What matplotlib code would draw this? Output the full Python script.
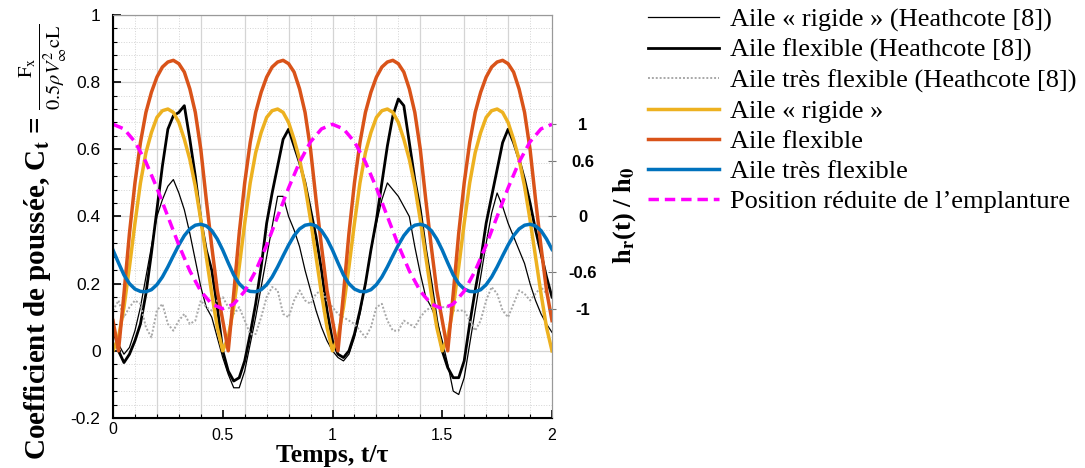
import numpy as np
import matplotlib
matplotlib.use("Agg")
import matplotlib.pyplot as plt
from matplotlib.ticker import MultipleLocator, FixedLocator

plt.rcParams['font.family'] = ['Liberation Sans', 'DejaVu Sans']
plt.rcParams['axes.unicode_minus'] = False
plt.rcParams['mathtext.fontset'] = 'stix'

# time base (t/tau), sampled every 0.025
t = np.round(np.arange(0, 2.0001, 0.025), 3)
# root position sampled every 0.05
t_h = np.round(np.arange(0, 2.0001, 0.05), 3)

# Heathcote [8] experiments
heath_rigide = [
    0.06, 0.02, -0.01, 0.01, 0.06, 0.13, 0.22, 0.31, 0.40, 0.45,
    0.49, 0.51, 0.47, 0.42, 0.35, 0.27, 0.19, 0.13, 0.10, 0.04,
    -0.02, -0.07, -0.11, -0.11, -0.06, 0.02, 0.10, 0.19, 0.28, 0.37,
    0.46, 0.46, 0.40, 0.36, 0.31, 0.24, 0.18, 0.12, 0.07, 0.03,
    0.0, -0.02, -0.03, -0.01, 0.04, 0.11, 0.20, 0.30, 0.38, 0.45,
    0.50, 0.48, 0.46, 0.43, 0.40, 0.31, 0.23, 0.16, 0.13, 0.09,
    0.03, -0.04, -0.12, -0.13, -0.08, 0.02, 0.12, 0.22, 0.32, 0.41,
    0.47, 0.43, 0.38, 0.34, 0.30, 0.26, 0.20, 0.15, 0.11, 0.08,
    0.055]
heath_flex = [
    0.08, 0.0, -0.035, -0.01, 0.03, 0.08, 0.17, 0.29, 0.42, 0.55,
    0.66, 0.70, 0.71, 0.73, 0.63, 0.52, 0.39, 0.30, 0.24, 0.13,
    0.0, -0.06, -0.09, -0.08, -0.03, 0.05, 0.14, 0.25, 0.38, 0.47,
    0.55, 0.63, 0.66, 0.61, 0.56, 0.50, 0.42, 0.34, 0.24, 0.12,
    0.03, -0.01, -0.02, 0.0, 0.05, 0.12, 0.20, 0.30, 0.39, 0.50,
    0.61, 0.70, 0.75, 0.73, 0.62, 0.51, 0.42, 0.30, 0.20, 0.09,
    0.0, -0.05, -0.08, -0.08, -0.03, 0.08, 0.18, 0.27, 0.38, 0.46,
    0.54, 0.62, 0.66, 0.62, 0.57, 0.51, 0.44, 0.36, 0.29, 0.22,
    0.16]
heath_tres_flex = [
    0.12, 0.15, 0.10, 0.13, 0.15, 0.14, 0.07, 0.04, 0.12, 0.14,
    0.08, 0.06, 0.09, 0.11, 0.08, 0.09, 0.15, 0.13, 0.12, 0.15,
    0.16, 0.13, 0.11, 0.13, 0.09, 0.05, 0.05, 0.10, 0.16, 0.19,
    0.18, 0.11, 0.10, 0.15, 0.18, 0.15, 0.14, 0.17, 0.18, 0.15,
    0.13, 0.11, 0.10, 0.09, 0.08, 0.06, 0.04, 0.07, 0.13, 0.14,
    0.09, 0.06, 0.06, 0.09, 0.08, 0.07, 0.10, 0.12, 0.13, 0.13,
    0.13, 0.13, 0.12, 0.12, 0.12, 0.09, 0.06, 0.09, 0.15, 0.19,
    0.17, 0.12, 0.10, 0.14, 0.18, 0.17, 0.15, 0.17, 0.19, 0.17,
    0.11]

# simulations
sim_rigide = [
    0.0, 0.04, 0.13, 0.25, 0.38, 0.50, 0.59, 0.65, 0.695, 0.715,
    0.72, 0.71, 0.68, 0.63, 0.57, 0.49, 0.39, 0.28, 0.17, 0.07,
    0.0, 0.04, 0.13, 0.25, 0.38, 0.50, 0.59, 0.65, 0.695, 0.715,
    0.72, 0.71, 0.68, 0.63, 0.57, 0.49, 0.39, 0.28, 0.17, 0.07,
    0.0, 0.04, 0.13, 0.25, 0.38, 0.50, 0.59, 0.65, 0.695, 0.715,
    0.72, 0.71, 0.68, 0.63, 0.57, 0.49, 0.39, 0.28, 0.17, 0.07,
    0.0, 0.04, 0.13, 0.25, 0.38, 0.50, 0.59, 0.65, 0.695, 0.715,
    0.72, 0.71, 0.68, 0.63, 0.57, 0.49, 0.39, 0.28, 0.17, 0.07,
    0.0]
sim_flex = [
    0.09, 0.0, 0.17, 0.35, 0.50, 0.62, 0.71, 0.77, 0.815, 0.845,
    0.86, 0.865, 0.855, 0.83, 0.78, 0.71, 0.60, 0.45, 0.31, 0.18,
    0.09, 0.0, 0.17, 0.35, 0.50, 0.62, 0.71, 0.77, 0.815, 0.845,
    0.86, 0.865, 0.855, 0.83, 0.78, 0.71, 0.60, 0.45, 0.31, 0.18,
    0.09, 0.0, 0.17, 0.35, 0.50, 0.62, 0.71, 0.77, 0.815, 0.845,
    0.86, 0.865, 0.855, 0.83, 0.78, 0.71, 0.60, 0.45, 0.31, 0.18,
    0.09, 0.0, 0.17, 0.35, 0.50, 0.62, 0.71, 0.77, 0.815, 0.845,
    0.86, 0.865, 0.855, 0.83, 0.78, 0.71, 0.60, 0.45, 0.31, 0.18,
    0.09]
sim_tres_flex = [
    0.300, 0.262, 0.226, 0.200, 0.184, 0.177, 0.176, 0.182, 0.197, 0.220,
    0.250, 0.283, 0.315, 0.343, 0.363, 0.374, 0.377, 0.372, 0.358, 0.333,
    0.300, 0.262, 0.226, 0.200, 0.184, 0.177, 0.176, 0.182, 0.197, 0.220,
    0.250, 0.283, 0.315, 0.343, 0.363, 0.374, 0.377, 0.372, 0.358, 0.333,
    0.300, 0.262, 0.226, 0.200, 0.184, 0.177, 0.176, 0.182, 0.197, 0.220,
    0.250, 0.283, 0.315, 0.343, 0.363, 0.374, 0.377, 0.372, 0.358, 0.333,
    0.300, 0.262, 0.226, 0.200, 0.184, 0.177, 0.176, 0.182, 0.197, 0.220,
    0.250, 0.283, 0.315, 0.343, 0.363, 0.374, 0.377, 0.372, 0.358, 0.333,
    0.302]

# reduced root position h_r(t)/h_0
h_root = [
    1.0, 0.95, 0.81, 0.59, 0.31, 0.0, -0.31, -0.59, -0.81, -0.95,
    -1.0, -0.95, -0.81, -0.59, -0.31, 0.0, 0.31, 0.59, 0.81, 0.95,
    1.0, 0.95, 0.81, 0.59, 0.31, 0.0, -0.31, -0.59, -0.81, -0.95,
    -1.0, -0.95, -0.81, -0.59, -0.31, 0.0, 0.31, 0.59, 0.81, 0.95,
    1.0]

labels = ["Aile « rigide » (Heathcote [8])",
          "Aile flexible (Heathcote [8])",
          "Aile très flexible (Heathcote [8])",
          "Aile « rigide »",
          "Aile flexible",
          "Aile très flexible",
          "Position réduite de l\u2019emplanture"]

x_ticks = [0, 0.5, 1, 1.5, 2]
x_ticklabels = ["0", "0.5", "1", "1.5", "2"]
y_ticks = [-0.2, 0, 0.2, 0.4, 0.6, 0.8, 1]
y_ticklabels = ["-0.2", "0", "0.2", "0.4", "0.6", "0.8", "1"]
h_ticks = [-1, -0.6, 0, 0.6, 1]
h_ticklabels = ["-1", "-0.6", "0", "0.6", "1"]

serif = ['Liberation Serif', 'DejaVu Serif']

fig = plt.figure(figsize=(10.85, 4.68), dpi=100)
ax = fig.add_axes([113 / 1085, 50 / 468, 439 / 1085, 403 / 468])

# grid
gcol = '#d4d4d4'
ax.set_xlim(0, 2)
ax.set_ylim(-0.2, 1)
ax.xaxis.set_major_locator(FixedLocator(x_ticks))
ax.xaxis.set_minor_locator(MultipleLocator(0.1))
ax.yaxis.set_major_locator(FixedLocator(y_ticks))
ax.yaxis.set_minor_locator(MultipleLocator(0.04))
ax.grid(which='minor', color=gcol, lw=0.7, ls=':')
ax.grid(which='major', axis='y', color=gcol, lw=0.9, ls='-')
for xv in np.arange(0.2, 2.0, 0.2):
    ax.axvline(xv, color=gcol, lw=0.9, zorder=0.5)

l1, = ax.plot(t, heath_rigide, color='black', lw=0.9)
l2, = ax.plot(t, heath_flex, color='black', lw=2.0)
l3, = ax.plot(t, heath_tres_flex, color='#a8a8a8', lw=1.4, ls=(0, (1, 1)))
l4, = ax.plot(t, sim_rigide, color='#EDB120', lw=2.5)
l5, = ax.plot(t, sim_flex, color='#D95319', lw=2.5)
l6, = ax.plot(t, sim_tres_flex, color='#0072BD', lw=2.5)

ax.set_xticklabels(x_ticklabels)
ax.set_yticklabels(y_ticklabels)
ax.tick_params(which='major', direction='in', length=6, width=1.2,
               top=False, right=False)
ax.tick_params(which='minor', direction='in', length=3, width=0.8,
               top=False, right=False)
ax.tick_params(axis='x', which='major', pad=7, labelsize=11.5)
ax.tick_params(axis='y', which='major', pad=9, labelsize=12.5)
ax.xaxis.get_major_ticks()[0].set_pad(3)
for side in ['left', 'bottom']:
    ax.spines[side].set_linewidth(1.5)
for side in ['top', 'right']:
    ax.spines[side].set_color('#999999')

ax2 = ax.twinx()
ax2.set_ylim(-2.185, 2.185)
l7, = ax2.plot(t_h, h_root, color='#FF00FF', lw=2.5, ls=(0, (3, 1.7)))
ax2.yaxis.set_major_locator(FixedLocator(h_ticks))
ax2.set_yticklabels(h_ticklabels, fontweight='bold', fontsize=12)
ax2.tick_params(axis='y', direction='inout', length=6, width=0.8, color='#777777', pad=19)
for lbl in ax2.get_yticklabels():
    lbl.set_horizontalalignment('center')
ax2.spines['right'].set_color('#999999')
ax2.spines['top'].set_color('#999999')

fig.text(0.040, 1 - 242 / 468,
         r'Coefficient de poussée, C$_\mathbf{t}$ = $\frac{\mathrm{F_x}}{0.5\rho V_{\infty}^{2}\mathrm{cL}}$',
         rotation=90, ha='center', va='center', fontsize=21, fontweight='bold',
         family=serif)
fig.text(332 / 1085, 1 - 462 / 468, 'Temps, t/τ', ha='center', va='baseline',
         fontsize=18.5, fontweight='bold', family=serif)
fig.text(625 / 1085, 1 - 215 / 468, r'h$_\mathbf{r}$(t) / h$_\mathbf{0}$',
         rotation=90, ha='center', va='center', fontsize=19, fontweight='bold',
         family=serif)

fig.legend([l1, l2, l3, l4, l5, l6, l7], labels, loc='upper left',
           bbox_to_anchor=(648 / 1085, 1 - 8 / 468), frameon=False,
           borderpad=0, borderaxespad=0, handlelength=2.7, handletextpad=0.4,
           labelspacing=0.25, prop={'family': serif, 'size': 19})

fig.savefig('out.png', dpi=100)
